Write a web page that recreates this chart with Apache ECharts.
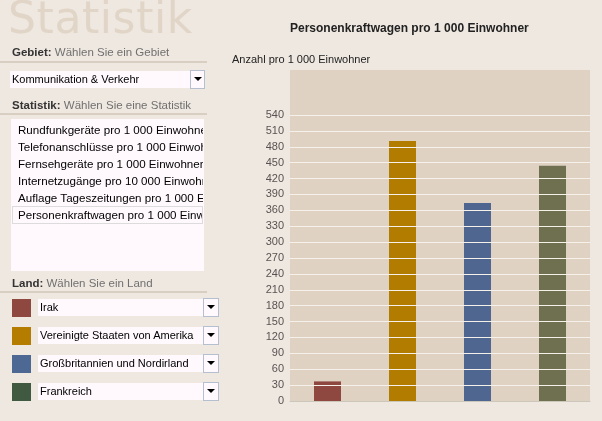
<!DOCTYPE html>
<html><head><meta charset="utf-8">
<script src="https://cdn.jsdelivr.net/npm/echarts@6/dist/echarts.min.js"></script>
<style>
html,body{margin:0;padding:0;background:#EFE8E0;}
#chart{position:absolute;left:0;top:0;width:602px;height:421px;}
#panel{position:absolute;left:0;top:0;width:225px;height:421px;font-family:"Liberation Sans",Arial,sans-serif;font-size:11px;color:#000;}
.big{position:absolute;left:8px;top:-4px;font-family:"DejaVu Sans";font-weight:normal;font-size:44px;line-height:44px;letter-spacing:0.6px;color:#E1D5C7;white-space:nowrap;}
.lbl{position:absolute;left:12px;font-size:11.5px;color:#707070;white-space:nowrap;}
.lbl b{color:#333;}
.rule{position:absolute;left:0;width:207px;height:2px;background:#D8CFC2;}
.box{position:absolute;background:#FFF9FE;white-space:nowrap;overflow:hidden;line-height:17px;box-sizing:border-box;padding-left:2px;}
.btn{position:absolute;background:#FFF9FE;border:1px solid #B4C0CF;box-sizing:border-box;}
.btn:after{content:"";position:absolute;left:3px;top:6px;border-left:4px solid transparent;border-right:4px solid transparent;border-top:4px solid #000;}
.sw{position:absolute;left:12px;width:19px;height:18px;}
.item{position:absolute;left:12px;width:191px;height:18px;line-height:18px;padding-left:6px;box-sizing:border-box;white-space:nowrap;overflow:hidden;font-size:11.6px;}
</style></head>
<body>
<div id="chart"></div>
<div id="panel"></div>
<script>
// ---- data ----
const categories = ['Irak', 'Vereinigte Staaten von Amerika', 'Großbritannien und Nordirland', 'Frankreich'];
const values = [37, 491, 374, 444];
const barColors = ['#8E4840', '#B27C00', '#4F6690', '#6E704F'];
const swatchColors = ['#8E4840', '#B57D00', '#4E6894', '#3F5A40'];
const statistikItems = ['Rundfunkgeräte pro 1 000 Einwohner', 'Telefonanschlüsse pro 1 000 Einwohner', 'Fernsehgeräte pro 1 000 Einwohner', 'Internetzugänge pro 10 000 Einwohner', 'Auflage Tageszeitungen pro 1 000 Einwohner', 'Personenkraftwagen pro 1 000 Einwohner'];
const selectedIndex = 5;
const gebiet = 'Kommunikation & Verkehr';
const chartTitle = 'Personenkraftwagen pro 1 000 Einwohner';
const axisCaption = 'Anzahl pro 1 000 Einwohner';
const yMin = 0, yMax = 540, yInterval = 30;

// ---- left panel ----
const p = document.getElementById('panel');
let h = '<div class="big">Statistik</div>';
h += '<div class="lbl" style="top:46px"><b>Gebiet:</b> Wählen Sie ein Gebiet</div>';
h += '<div class="rule" style="top:61px"></div>';
h += '<div class="box" style="left:10px;top:71px;width:180px;height:17px;">' + gebiet.replace('&','&amp;') + '</div>';
h += '<div class="btn" style="left:190px;top:70px;width:15px;height:19px;"></div>';
h += '<div class="lbl" style="top:99px"><b>Statistik:</b> Wählen Sie eine Statistik</div>';
h += '<div class="rule" style="top:113px"></div>';
h += '<div class="box" style="left:11px;top:119px;width:193px;height:152px;"></div>';
statistikItems.forEach((s, i) => {
  const top = 121 + i * 17;
  const st = i === selectedIndex ? 'border:1px solid #DCDCDC;padding-left:5px;line-height:16px;' : '';
  h += '<div class="item" style="top:' + top + 'px;' + st + '">' + s + '</div>';
});
h += '<div class="lbl" style="top:277px"><b>Land:</b> Wählen Sie ein Land</div>';
h += '<div class="rule" style="top:291px"></div>';
categories.forEach((c, i) => {
  const top = 299 + i * 28;
  h += '<div class="sw" style="top:' + top + 'px;background:' + swatchColors[i] + '"></div>';
  h += '<div class="box" style="left:38px;top:' + top + 'px;width:165px;height:17px;padding-left:2px;font-size:11px;">' + c + '</div>';
  h += '<div class="btn" style="left:203px;top:' + (top - 1) + 'px;width:16px;height:19px;"></div>';
});
p.innerHTML = h;

// ---- chart ----
const chart = echarts.init(document.getElementById('chart'));
chart.setOption({
  backgroundColor: '#EFE8E0',
  animation: false,
  textStyle: { fontFamily: 'Liberation Sans, Arial, sans-serif' },
  title: [
    { text: chartTitle, left: 290, top: 23, padding: 0,
      textStyle: { fontSize: 12, fontWeight: 'bold', color: '#222' } },
    { text: axisCaption, left: 232, top: 54, padding: 0,
      textStyle: { fontSize: 11, fontWeight: 'normal', color: '#222' } }
  ],
  graphic: [
    { type: 'rect', shape: { x: 290, y: 70, width: 300, height: 331 }, style: { fill: '#E0D2C3' }, z: -10, silent: true }
  ],
  grid: { left: 290, right: 12, top: 115, bottom: 20 },
  xAxis: {
    type: 'category', data: categories, z: 5,
    axisLabel: { show: false }, axisTick: { show: false },
    axisLine: { show: true, lineStyle: { color: '#CBC8BB', width: 1 } }
  },
  yAxis: {
    type: 'value', min: yMin, max: yMax, interval: yInterval, z: 5,
    axisLine: { show: false }, axisTick: { show: false },
    axisLabel: { color: '#5A5252', fontSize: 11, margin: 6 },
    splitLine: { lineStyle: { color: '#F5F0EA', width: 1 } }
  },
  series: [{
    type: 'bar', barWidth: 27,
    data: values.map((v, i) => ({ value: v, itemStyle: { color: barColors[i] } }))
  }]
});
</script>
</body></html>
